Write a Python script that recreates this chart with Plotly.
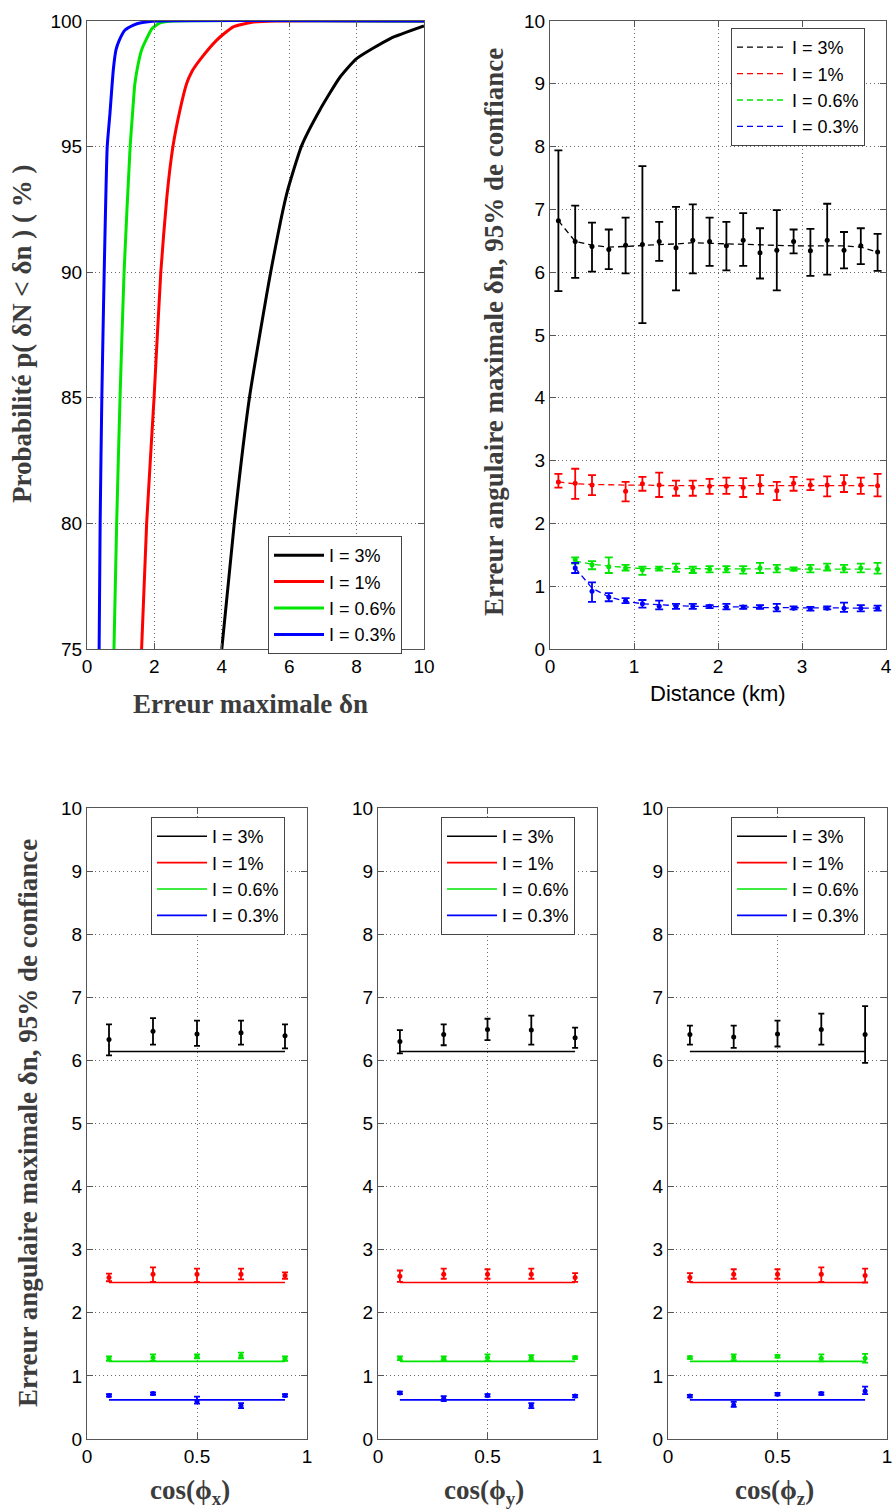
import plotly.graph_objects as go

# ---------------- Panel A : cumulative probability ----------------
cdf_black_x = [4.0, 4.37, 4.82, 5.45, 5.93, 6.37, 6.91, 7.5, 8.0, 9.0, 10.0]
cdf_black_p = [75, 80, 85, 90, 93.14, 95.04, 96.46, 97.75, 98.5, 99.3, 99.8]
cdf_red_x = [1.62, 1.77, 1.99, 2.19, 2.37, 2.55, 2.76, 2.96, 3.11, 3.35, 3.85, 4.34, 4.9, 5.6, 10.0]
cdf_red_p = [75, 80, 85, 90, 93, 95, 96.46, 97.52, 97.98, 98.45, 99.24, 99.77, 99.95, 100, 100]
cdf_green_x = [0.8, 0.88, 0.98, 1.1, 1.28, 1.35, 1.42, 1.52, 1.62, 1.77, 1.93, 2.17, 2.6, 10.0]
cdf_green_p = [75, 80, 85, 90, 95, 96.3, 97.5, 98.3, 98.85, 99.3, 99.7, 99.93, 100, 100]
cdf_blue_x = [0.36, 0.39, 0.44, 0.51, 0.6, 0.68, 0.78, 0.86, 0.96, 1.13, 1.38, 1.6, 2.1, 10.0]
cdf_blue_p = [75, 80, 85, 90, 95, 96.3, 98.05, 98.85, 99.24, 99.64, 99.84, 99.93, 100, 100]

# ---------------- Panel B : error vs distance ----------------
dist = [0.1, 0.3, 0.5, 0.7, 0.9, 1.1, 1.3, 1.5, 1.7, 1.9,
        2.1, 2.3, 2.5, 2.7, 2.9, 3.1, 3.3, 3.5, 3.7, 3.9]
dist_low = dist[1:]

d_black_mean = [6.82, 6.49, 6.41, 6.36, 6.43, 6.44, 6.49, 6.39, 6.51, 6.49,
                6.42, 6.51, 6.31, 6.35, 6.49, 6.34, 6.51, 6.35, 6.42, 6.32]
d_black_hi = [7.94, 7.06, 6.79, 6.68, 6.87, 7.69, 6.80, 7.04, 7.08, 6.87,
              6.80, 6.94, 6.70, 6.99, 6.68, 6.69, 7.09, 6.64, 6.70, 6.61]
d_black_lo = [5.70, 5.91, 6.01, 6.05, 5.98, 5.19, 6.18, 5.71, 5.98, 6.10,
              6.03, 6.10, 5.90, 5.71, 6.30, 5.94, 5.96, 6.06, 6.13, 6.02]
d_black_fit = [6.82, 6.49, 6.43, 6.40, 6.41, 6.43, 6.44, 6.45, 6.47, 6.46,
               6.45, 6.44, 6.43, 6.42, 6.42, 6.42, 6.42, 6.42, 6.40, 6.32]

d_red_mean = [2.66, 2.64, 2.61, None, 2.51, 2.63, 2.61, 2.56, 2.57, 2.59,
              2.59, 2.57, 2.61, 2.52, 2.64, 2.61, 2.61, 2.64, 2.61, 2.60]
d_red_hi = [2.79, 2.87, 2.77, None, 2.66, 2.74, 2.81, 2.68, 2.68, 2.71,
            2.73, 2.72, 2.77, 2.66, 2.74, 2.70, 2.75, 2.77, 2.73, 2.79]
d_red_lo = [2.57, 2.39, 2.45, None, 2.35, 2.52, 2.42, 2.44, 2.44, 2.47,
            2.47, 2.42, 2.47, 2.37, 2.52, 2.53, 2.43, 2.50, 2.47, 2.43]
d_red_fit = [2.66, 2.63, 2.62, 2.61, 2.61, 2.61, 2.60, 2.60, 2.60, 2.60,
             2.60, 2.60, 2.60, 2.60, 2.61, 2.61, 2.61, 2.61, 2.61, 2.60]

d_green_mean = [1.42, 1.34, 1.31, 1.29, 1.26, 1.28, 1.29, 1.25, 1.27, 1.27,
                1.26, 1.29, 1.28, 1.27, 1.28, 1.30, 1.28, 1.29, 1.27]
d_green_hi = [1.46, 1.40, 1.46, 1.34, 1.31, 1.31, 1.36, 1.31, 1.32, 1.32,
              1.32, 1.37, 1.34, 1.30, 1.34, 1.36, 1.34, 1.36, 1.37]
d_green_lo = [1.36, 1.27, 1.21, 1.25, 1.18, 1.25, 1.23, 1.21, 1.22, 1.22,
              1.20, 1.21, 1.22, 1.25, 1.22, 1.25, 1.22, 1.22, 1.20]
d_green_fit = [1.40, 1.35, 1.32, 1.30, 1.28, 1.28, 1.28, 1.27, 1.27, 1.27,
               1.27, 1.27, 1.27, 1.27, 1.28, 1.28, 1.28, 1.28, 1.27]

d_blue_mean = [1.29, 0.92, 0.83, 0.77, 0.72, 0.68, 0.68, 0.68, 0.68, 0.67,
               0.67, 0.67, 0.65, 0.65, 0.64, 0.65, 0.65, 0.65, 0.65]
d_blue_hi = [1.37, 1.06, 0.89, 0.81, 0.78, 0.77, 0.72, 0.72, 0.70, 0.72,
             0.69, 0.70, 0.72, 0.68, 0.67, 0.68, 0.74, 0.70, 0.69]
d_blue_lo = [1.21, 0.75, 0.76, 0.73, 0.66, 0.63, 0.64, 0.64, 0.65, 0.63,
             0.64, 0.64, 0.60, 0.63, 0.61, 0.63, 0.59, 0.60, 0.61]
d_blue_fit = [1.29, 0.97, 0.83, 0.76, 0.72, 0.70, 0.69, 0.68, 0.68, 0.67,
              0.67, 0.66, 0.66, 0.65, 0.65, 0.65, 0.65, 0.65, 0.65]

# ---------------- Panels C, D, E : error vs cos(phi) ----------------
cos_vals = [0.1, 0.3, 0.5, 0.7, 0.9]
fit_levels = {"black": 6.14, "red": 2.48, "green": 1.23, "blue": 0.62}

# panel C : cos(phi_x)   (mean, upper, lower)
cx = {
    "black": ([6.33, 6.46, 6.42, 6.44, 6.39], [6.57, 6.67, 6.63, 6.63, 6.57], [6.08, 6.25, 6.23, 6.25, 6.19]),
    "red":   ([2.56, 2.61, 2.61, 2.61, 2.59], [2.62, 2.72, 2.70, 2.70, 2.64], [2.50, 2.49, 2.49, 2.53, 2.54]),
    "green": ([1.28, 1.29, 1.31, 1.32, 1.28], [1.31, 1.34, 1.34, 1.37, 1.31], [1.24, 1.24, 1.28, 1.28, 1.24]),
    "blue":  ([0.69, 0.72, 0.60, 0.53, 0.69], [0.71, 0.74, 0.67, 0.57, 0.71], [0.67, 0.70, 0.56, 0.49, 0.67]),
}
# panel D : cos(phi_y)
cy = {
    "black": ([6.30, 6.41, 6.49, 6.48, 6.36], [6.48, 6.57, 6.66, 6.71, 6.52], [6.11, 6.24, 6.32, 6.25, 6.20]),
    "red":   ([2.58, 2.61, 2.61, 2.61, 2.56], [2.67, 2.70, 2.69, 2.70, 2.63], [2.49, 2.54, 2.54, 2.54, 2.49]),
    "green": ([1.28, 1.28, 1.29, 1.29, 1.29], [1.31, 1.31, 1.34, 1.33, 1.31], [1.25, 1.25, 1.24, 1.25, 1.27]),
    "blue":  ([0.73, 0.64, 0.69, 0.53, 0.68], [0.75, 0.68, 0.71, 0.57, 0.70], [0.71, 0.60, 0.67, 0.49, 0.66]),
}
# panel E : cos(phi_z)
cz = {
    "black": ([6.41, 6.37, 6.42, 6.49, 6.41], [6.55, 6.55, 6.63, 6.74, 6.86], [6.25, 6.20, 6.22, 6.25, 5.96]),
    "red":   ([2.56, 2.61, 2.61, 2.61, 2.59], [2.63, 2.69, 2.69, 2.72, 2.70], [2.49, 2.54, 2.54, 2.49, 2.48]),
    "green": ([1.29, 1.30, 1.31, 1.28, 1.28], [1.31, 1.34, 1.33, 1.34, 1.35], [1.27, 1.25, 1.29, 1.23, 1.21]),
    "blue":  ([0.68, 0.54, 0.71, 0.72, 0.76], [0.70, 0.59, 0.73, 0.74, 0.83], [0.66, 0.51, 0.69, 0.70, 0.71]),
}

series_names = ["I = 3%", "I = 1%", "I = 0.6%", "I = 0.3%"]
series_keys = ["black", "red", "green", "blue"]
colors = {"black": "#000000", "red": "#ff0000", "green": "#00e600", "blue": "#0000ff"}

W, H = 894, 1510


def px_x(p):
    return p / W


def px_y(p):
    return 1 - p / H


def errs(mean, hi, lo):
    up = [None if m is None else round(h - m, 3) for m, h in zip(mean, hi)]
    dn = [None if m is None else round(m - l, 3) for m, l in zip(mean, lo)]
    return up, dn


fig = go.Figure()

# ---- Panel A traces ----
cdf = {
    "black": (cdf_black_x, cdf_black_p),
    "red": (cdf_red_x, cdf_red_p),
    "green": (cdf_green_x, cdf_green_p),
    "blue": (cdf_blue_x, cdf_blue_p),
}
for name, key in zip(series_names, series_keys):
    xs, ps = cdf[key]
    fig.add_trace(go.Scatter(x=xs, y=ps, mode="lines", name=name,
                             line=dict(color=colors[key], width=3, shape="spline", smoothing=0.5),
                             xaxis="x", yaxis="y", legend="legend"))

# ---- Panel B traces ----
panel_b = {
    "black": (dist, d_black_mean, d_black_hi, d_black_lo, d_black_fit),
    "red": (dist, d_red_mean, d_red_hi, d_red_lo, d_red_fit),
    "green": (dist_low, d_green_mean, d_green_hi, d_green_lo, d_green_fit),
    "blue": (dist_low, d_blue_mean, d_blue_hi, d_blue_lo, d_blue_fit),
}
for name, key in zip(series_names, series_keys):
    xs, m, hi, lo, fit = panel_b[key]
    fig.add_trace(go.Scatter(x=xs, y=fit, mode="lines", name=name,
                             line=dict(color=colors[key], width=1.3, dash="6px,4px"),
                             xaxis="x2", yaxis="y2", legend="legend2"))
for key in series_keys:
    xs, m, hi, lo, fit = panel_b[key]
    up, dn = errs(m, hi, lo)
    fig.add_trace(go.Scatter(x=xs, y=m, mode="markers", showlegend=False,
                             marker=dict(color=colors[key], size=5),
                             error_y=dict(type="data", symmetric=False, array=up, arrayminus=dn,
                                          color=colors[key], thickness=1.8, width=4),
                             xaxis="x2", yaxis="y2"))

# ---- Panels C, D, E ----
for idx, data in zip([3, 4, 5], [cx, cy, cz]):
    xa, ya, lg = f"x{idx}", f"y{idx}", f"legend{idx}"
    for name, key in zip(series_names, series_keys):
        lvl = fit_levels[key]
        fig.add_trace(go.Scatter(x=[cos_vals[0], cos_vals[-1]], y=[lvl, lvl], mode="lines", name=name,
                                 line=dict(color=colors[key], width=1.6),
                                 xaxis=xa, yaxis=ya, legend=lg))
    for key in series_keys:
        m, hi, lo = data[key]
        up, dn = errs(m, hi, lo)
        fig.add_trace(go.Scatter(x=cos_vals, y=m, mode="markers", showlegend=False,
                                 marker=dict(color=colors[key], size=5),
                                 error_y=dict(type="data", symmetric=False, array=up, arrayminus=dn,
                                              color=colors[key], thickness=1.8, width=3),
                                 xaxis=xa, yaxis=ya))

tick_font = dict(family="Liberation Sans, Arial, sans-serif", size=19, color="black")


def axis(domain, rng, tick0, dtick, anchor):
    return dict(domain=domain, range=rng, tick0=tick0, dtick=dtick, anchor=anchor,
                automargin=False,
                showline=True, linecolor="#555555", linewidth=1, mirror="ticks",
                ticks="inside", ticklen=6, tickcolor="#555555", tickwidth=1,
                showgrid=True, gridcolor="#6a6a6a", griddash="1px,3px", gridwidth=1,
                zeroline=False, tickfont=tick_font, fixedrange=True)


top_y = [px_y(649), px_y(21)]
bot_y = [px_y(1439), px_y(808)]

legend_style = dict(bgcolor="white", bordercolor="#444444", borderwidth=1,
                    font=dict(family="Liberation Sans, Arial, sans-serif", size=18, color="black"),
                    xanchor="left", yanchor="top", tracegroupgap=0, itemclick=False,
                    itemwidth=50)

title_font = dict(family="Liberation Serif, Times New Roman, serif", size=27, color="#3c3c3c")

annotations = [
    dict(text="<b>Probabilité p( δN < δn ) ( % )</b>", x=px_x(22), y=px_y(334), textangle=-90),
    dict(text="<b>Erreur maximale δn</b>", x=px_x(250), y=px_y(704)),
    dict(text="<b>Erreur angulaire maximale δn, 95% de confiance</b>", x=px_x(494), y=px_y(332), textangle=-90),
    dict(text="Distance (km)", x=px_x(718), y=px_y(693),
         font=dict(family="Liberation Sans, Arial, sans-serif", size=22, color="black")),
    dict(text="<b>Erreur angulaire maximale δn, 95% de confiance</b>", x=px_x(28), y=px_y(1123), textangle=-90),
    dict(text="<b>cos(ϕ<sub>x</sub>)</b>", x=px_x(190), y=px_y(1492)),
    dict(text="<b>cos(ϕ<sub>y</sub>)</b>", x=px_x(484), y=px_y(1492)),
    dict(text="<b>cos(ϕ<sub>z</sub>)</b>", x=px_x(774), y=px_y(1492)),
]
for a in annotations:
    a.setdefault("font", title_font)
    a.update(xref="paper", yref="paper", showarrow=False, xanchor="center", yanchor="middle")

fig.update_layout(
    width=W, height=H, margin=dict(l=0, r=0, t=0, b=0, autoexpand=False),
    paper_bgcolor="white", plot_bgcolor="white",
    xaxis=axis([px_x(87), px_x(424)], [0, 10], 0, 2, "y"),
    yaxis=axis(top_y, [75, 100], 75, 5, "x"),
    xaxis2=axis([px_x(550), px_x(886)], [0, 4], 0, 1, "y2"),
    yaxis2=axis(top_y, [0, 10], 0, 1, "x2"),
    xaxis3=axis([px_x(87), px_x(307)], [0, 1], 0, 0.5, "y3"),
    yaxis3=axis(bot_y, [0, 10], 0, 1, "x3"),
    xaxis4=axis([px_x(378), px_x(597)], [0, 1], 0, 0.5, "y4"),
    yaxis4=axis(bot_y, [0, 10], 0, 1, "x4"),
    xaxis5=axis([px_x(668), px_x(887)], [0, 1], 0, 0.5, "y5"),
    yaxis5=axis(bot_y, [0, 10], 0, 1, "x5"),
    legend=dict(x=px_x(268), y=px_y(536), **legend_style),
    legend2=dict(x=px_x(731), y=px_y(28), **legend_style),
    legend3=dict(x=px_x(151), y=px_y(817), **legend_style),
    legend4=dict(x=px_x(441), y=px_y(817), **legend_style),
    legend5=dict(x=px_x(731), y=px_y(817), **legend_style),
    annotations=annotations,
    showlegend=True,
)

fig.write_html(
    "out.html",
    config={"displayModeBar": False},
    post_script="document.body.style.margin='0px'; document.body.style.overflow='hidden';",
)
